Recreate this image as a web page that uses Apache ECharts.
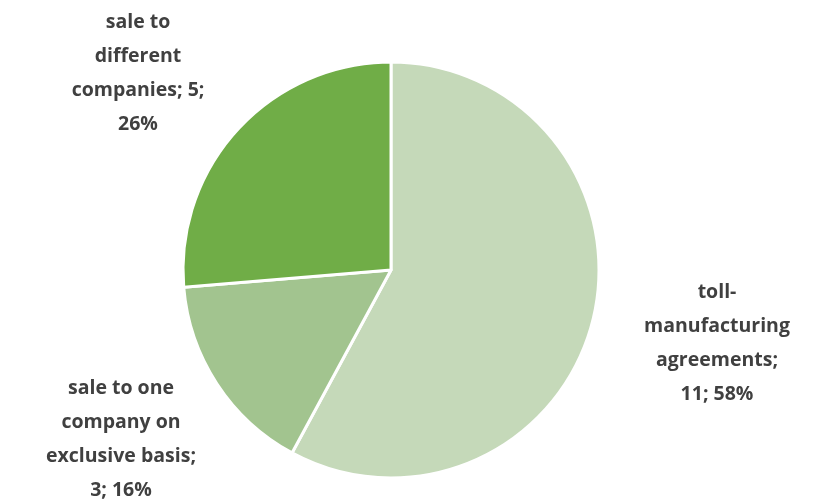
<!DOCTYPE html>
<html><head><meta charset="utf-8">
<script src="https://cdn.jsdelivr.net/npm/echarts@6/dist/echarts.min.js"></script>
<style>html,body{margin:0;padding:0;background:#fff}#c{width:815px;height:502px}</style>
</head><body><div id="c"></div>
<script>
const categories = ['toll-manufacturing agreements', 'sale to one company on exclusive basis', 'sale to different companies'];
const labelNames = ['toll-\nmanufacturing\nagreements;', 'sale to one\ncompany on\nexclusive basis;', 'sale to\ndifferent\ncompanies;'];
const values = [11, 3, 5];
const colors = ['#c5d9b9', '#a2c48f', '#70ad47'];

const labelPos = [[717, 343], [121, 439], [138, 73]];
const breakAfterValue = [false, false, true];

const chart = echarts.init(document.getElementById('c'));
chart.setOption({
  animation: false,
  series: [{
    type: 'pie',
    center: [391, 270],
    radius: [0, 208],
    startAngle: 90,
    clockwise: true,
    percentPrecision: 0,
    data: categories.map((n, i) => ({ name: n, value: values[i], itemStyle: { color: colors[i] } })),
    itemStyle: { borderColor: '#ffffff', borderWidth: 3 },
    label: {
      show: true,
      position: 'outside',
      formatter: p => labelNames[p.dataIndex] + (breakAfterValue[p.dataIndex] ? ' ' : '\n') + p.value + ';' + (breakAfterValue[p.dataIndex] ? '\n' : ' ') + p.percent + '%',
      fontFamily: 'Open Sans',
      fontWeight: 'bold',
      fontSize: 19.5,
      lineHeight: 34,
      color: '#404040',
      align: 'center'
    },
    labelLine: { show: false },
    labelLayout: p => ({ x: labelPos[p.dataIndex][0], y: labelPos[p.dataIndex][1], align: 'center', verticalAlign: 'middle' })
  }]
});
</script></body></html>
